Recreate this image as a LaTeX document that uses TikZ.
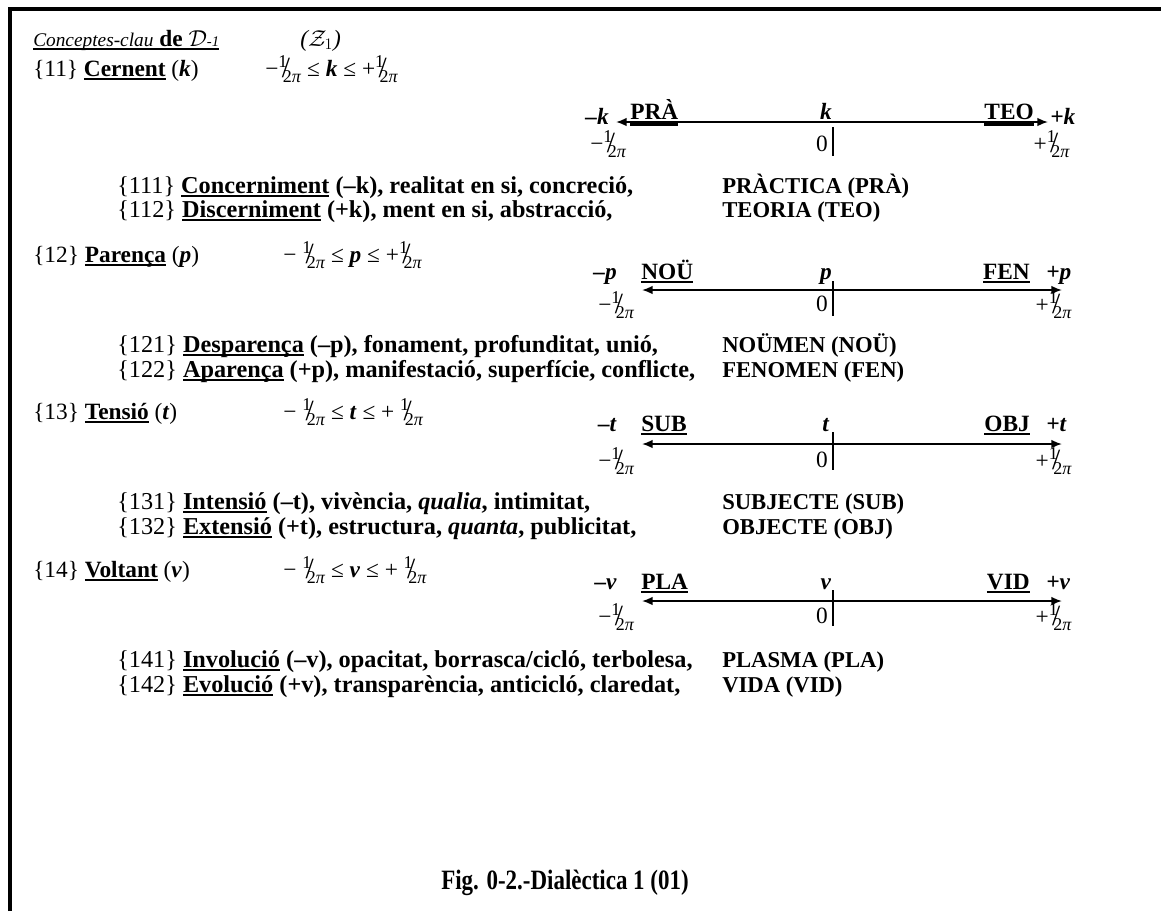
\documentclass[tikz,border=0pt]{standalone}
\usepackage{fontspec}
\setmainfont{Liberation Serif}
\usetikzlibrary{arrows.meta}
\newcommand{\myul}[1]{\setbox0\hbox{#1}\rlap{\rule[-3pt]{\wd0}{1.4pt}}\box0\relax}
\newcommand{\myulb}[1]{\setbox0\hbox{#1}\rlap{\rule[-5pt]{\wd0}{2.6pt}}\box0\relax}
\newcommand{\hpi}{\mbox{\mdseries\raisebox{0.75ex}{\fontsize{13.5}{12}\selectfont 1}\kern-0.24em\raisebox{-0.15ex}{\fontsize{22}{22}\selectfont /}\kern-0.3em\raisebox{-0.6ex}{\fontsize{13.5}{12}\selectfont 2\textit{π}}}}
\begin{document}
\begin{tikzpicture}[x=0.75pt,y=-0.75pt,
  txt/.style={anchor=base west,inner sep=0pt,font=\fontsize{17.5}{20}\selectfont\bfseries},
  txd/.style={txt,font=\fontsize{18.2}{20}\selectfont\bfseries},
  txn/.style={txt,font=\fontsize{17}{20}\selectfont\bfseries},
  txe/.style={txt,anchor=base east},
  txc/.style={txt,anchor=base},
  axisline/.style={line width=1.3pt,{Latex[length=8pt,width=6.5pt]}-{Latex[length=8pt,width=6.5pt]}},
  tickline/.style={line width=1.3pt},
  frameline/.style={line width=3pt}]
\useasboundingbox (0,0) rectangle (1161,911);
\fill[white] (0,0) rectangle (1161,911);
\coordinate (fb) at (10,911);
\coordinate (fc) at (10,9);
\coordinate (fr) at (1161,9);
\draw[frameline] (fb) -- (fc) -- (fr);

% header
\node[txt] (hd) at (33,46) {\myul{{\mdseries\itshape\fontsize{14.5}{16}\selectfont Conceptes-clau} de $\mathcal{D}${\mdseries\itshape\fontsize{11}{11}\selectfont -1}}};
\node[txt] (z1) at (300,46) {{\mdseries\itshape (}$\mathcal{Z}_1${\mdseries\itshape )}};

% ---------- section 1
\node[txt] (h11) at (33,76) {\textmd{\{11\}} \myul{Cernent} \textmd{(}\textit{k}\textmd{)}};
\node[txt] (r11) at (265,76) {\textmd{−\hpi{} ≤} \textit{k} \textmd{≤ +\hpi}};
\coordinate (a1l) at (616,122);
\coordinate (a1r) at (1048,122);
\draw[axisline] (a1l) -- (a1r);
\node[txe] (a1m) at (609,124) {\textit{–k}};
\node[txt] (a1a) at (630,119) {\myulb{PRÀ}};
\node[txc] (a1c) at (826,119) {\textit{k}};
\node[txe] (a1b) at (1034,119) {\myulb{TEO}};
\node[txt] (a1p) at (1050,124) {\textit{+k}};
\node[txt] (a1n) at (590,151) {\textmd{−\hpi}};
\node[txe] (a1z) at (828,151) {\textmd{0}};
\coordinate (a1t) at (833,127);
\coordinate (a1u) at (833,156);
\draw[tickline] (a1t) -- (a1u);
\node[txe] (a1q) at (1070,151) {\textmd{+\hpi}};
\node[txd] (d111) at (117,193) {\textmd{\{111\}} \myul{Concerniment} (–k), realitat en si, concreció,};
\node[txn] (n111) at (722,193) {PRÀCTICA (PRÀ)};
\node[txd] (d112) at (117,217) {\textmd{\{112\}} \myul{Discerniment} (+k), ment en si, abstracció,};
\node[txn] (n112) at (722,217) {TEORIA (TEO)};

% ---------- section 2
\node[txt] (h12) at (33,262) {\textmd{\{12\}} \myul{Parença} \textmd{(}\textit{p}\textmd{)}};
\node[txt] (r12) at (283,262) {\textmd{− \hpi{} ≤} \textit{p} \textmd{≤ +\hpi}};
\coordinate (a2l) at (642,290);
\coordinate (a2r) at (1062,290);
\draw[axisline] (a2l) -- (a2r);
\node[txe] (a2m) at (617,279) {\textit{–p}};
\node[txt] (a2a) at (641,279) {\myul{NOÜ}};
\node[txc] (a2c) at (826,279) {\textit{p}};
\node[txe] (a2b) at (1030,279) {\myul{FEN}};
\node[txt] (a2p) at (1046,279) {\textit{+p}};
\node[txt] (a2n) at (598,312) {\textmd{−\hpi}};
\node[txe] (a2z) at (828,311) {\textmd{0}};
\coordinate (a2t) at (833,281);
\coordinate (a2u) at (833,316);
\draw[tickline] (a2t) -- (a2u);
\node[txe] (a2q) at (1072,312) {\textmd{+\hpi}};
\node[txd] (d121) at (117,352) {\textmd{\{121\}} \myul{Desparença} (–p), fonament, profunditat, unió,};
\node[txn] (n121) at (722,352) {NOÜMEN (NOÜ)};
\node[txd] (d122) at (117,377) {\textmd{\{122\}} \myul{Aparença} (+p), manifestació, superfície, conflicte,};
\node[txn] (n122) at (722,377) {FENOMEN (FEN)};

% ---------- section 3
\node[txt] (h13) at (33,419) {\textmd{\{13\}} \myul{Tensió} \textmd{(}\textit{t}\textmd{)}};
\node[txt] (r13) at (283,419) {\textmd{− \hpi{} ≤} \textit{t} \textmd{≤ + \hpi}};
\coordinate (a3l) at (642,444);
\coordinate (a3r) at (1062,444);
\draw[axisline] (a3l) -- (a3r);
\node[txe] (a3m) at (617,431) {\textit{–t}};
\node[txt] (a3a) at (641,431) {\myul{SUB}};
\node[txc] (a3c) at (826,431) {\textit{t}};
\node[txe] (a3b) at (1030,431) {\myul{OBJ}};
\node[txt] (a3p) at (1046,431) {\textit{+t}};
\node[txt] (a3n) at (598,468) {\textmd{−\hpi}};
\node[txe] (a3z) at (828,467) {\textmd{0}};
\coordinate (a3t) at (833,432);
\coordinate (a3u) at (833,470);
\draw[tickline] (a3t) -- (a3u);
\node[txe] (a3q) at (1072,468) {\textmd{+\hpi}};
\node[txd] (d131) at (117,509) {\textmd{\{131\}} \myul{Intensió} (–t), vivència, \textit{qualia}, intimitat,};
\node[txn] (n131) at (722,509) {SUBJECTE (SUB)};
\node[txd] (d132) at (117,534) {\textmd{\{132\}} \myul{Extensió} (+t), estructura, \textit{quanta}, publicitat,};
\node[txn] (n132) at (722,534) {OBJECTE (OBJ)};

% ---------- section 4
\node[txt] (h14) at (33,577) {\textmd{\{14\}} \myul{Voltant} \textmd{(}\textit{v}\textmd{)}};
\node[txt] (r14) at (283,577) {\textmd{− \hpi{} ≤} \textit{v} \textmd{≤ + \hpi}};
\coordinate (a4l) at (642,601);
\coordinate (a4r) at (1062,601);
\draw[axisline] (a4l) -- (a4r);
\node[txe] (a4m) at (617,589) {\textit{–v}};
\node[txt] (a4a) at (641,589) {\myul{PLA}};
\node[txc] (a4c) at (826,589) {\textit{v}};
\node[txe] (a4b) at (1030,589) {\myul{VID}};
\node[txt] (a4p) at (1046,589) {\textit{+v}};
\node[txt] (a4n) at (598,624) {\textmd{−\hpi}};
\node[txe] (a4z) at (828,623) {\textmd{0}};
\coordinate (a4t) at (833,590);
\coordinate (a4u) at (833,626);
\draw[tickline] (a4t) -- (a4u);
\node[txe] (a4q) at (1072,624) {\textmd{+\hpi}};
\node[txd] (d141) at (117,667) {\textmd{\{141\}} \myul{Involució} (–v), opacitat, borrasca/cicló, terbolesa,};
\node[txn] (n141) at (722,667) {PLASMA (PLA)};
\node[txd] (d142) at (117,692) {\textmd{\{142\}} \myul{Evolució} (+v), transparència, anticicló, claredat,};
\node[txn] (n142) at (722,692) {VIDA (VID)};

% caption
\node[txc,font=\fontsize{21}{23}\selectfont\bfseries] (cap) at (565,889) {\scalebox{0.82}[1]{Fig. 0-2.-Dialèctica 1 (01)}};
\end{tikzpicture}
\end{document}
